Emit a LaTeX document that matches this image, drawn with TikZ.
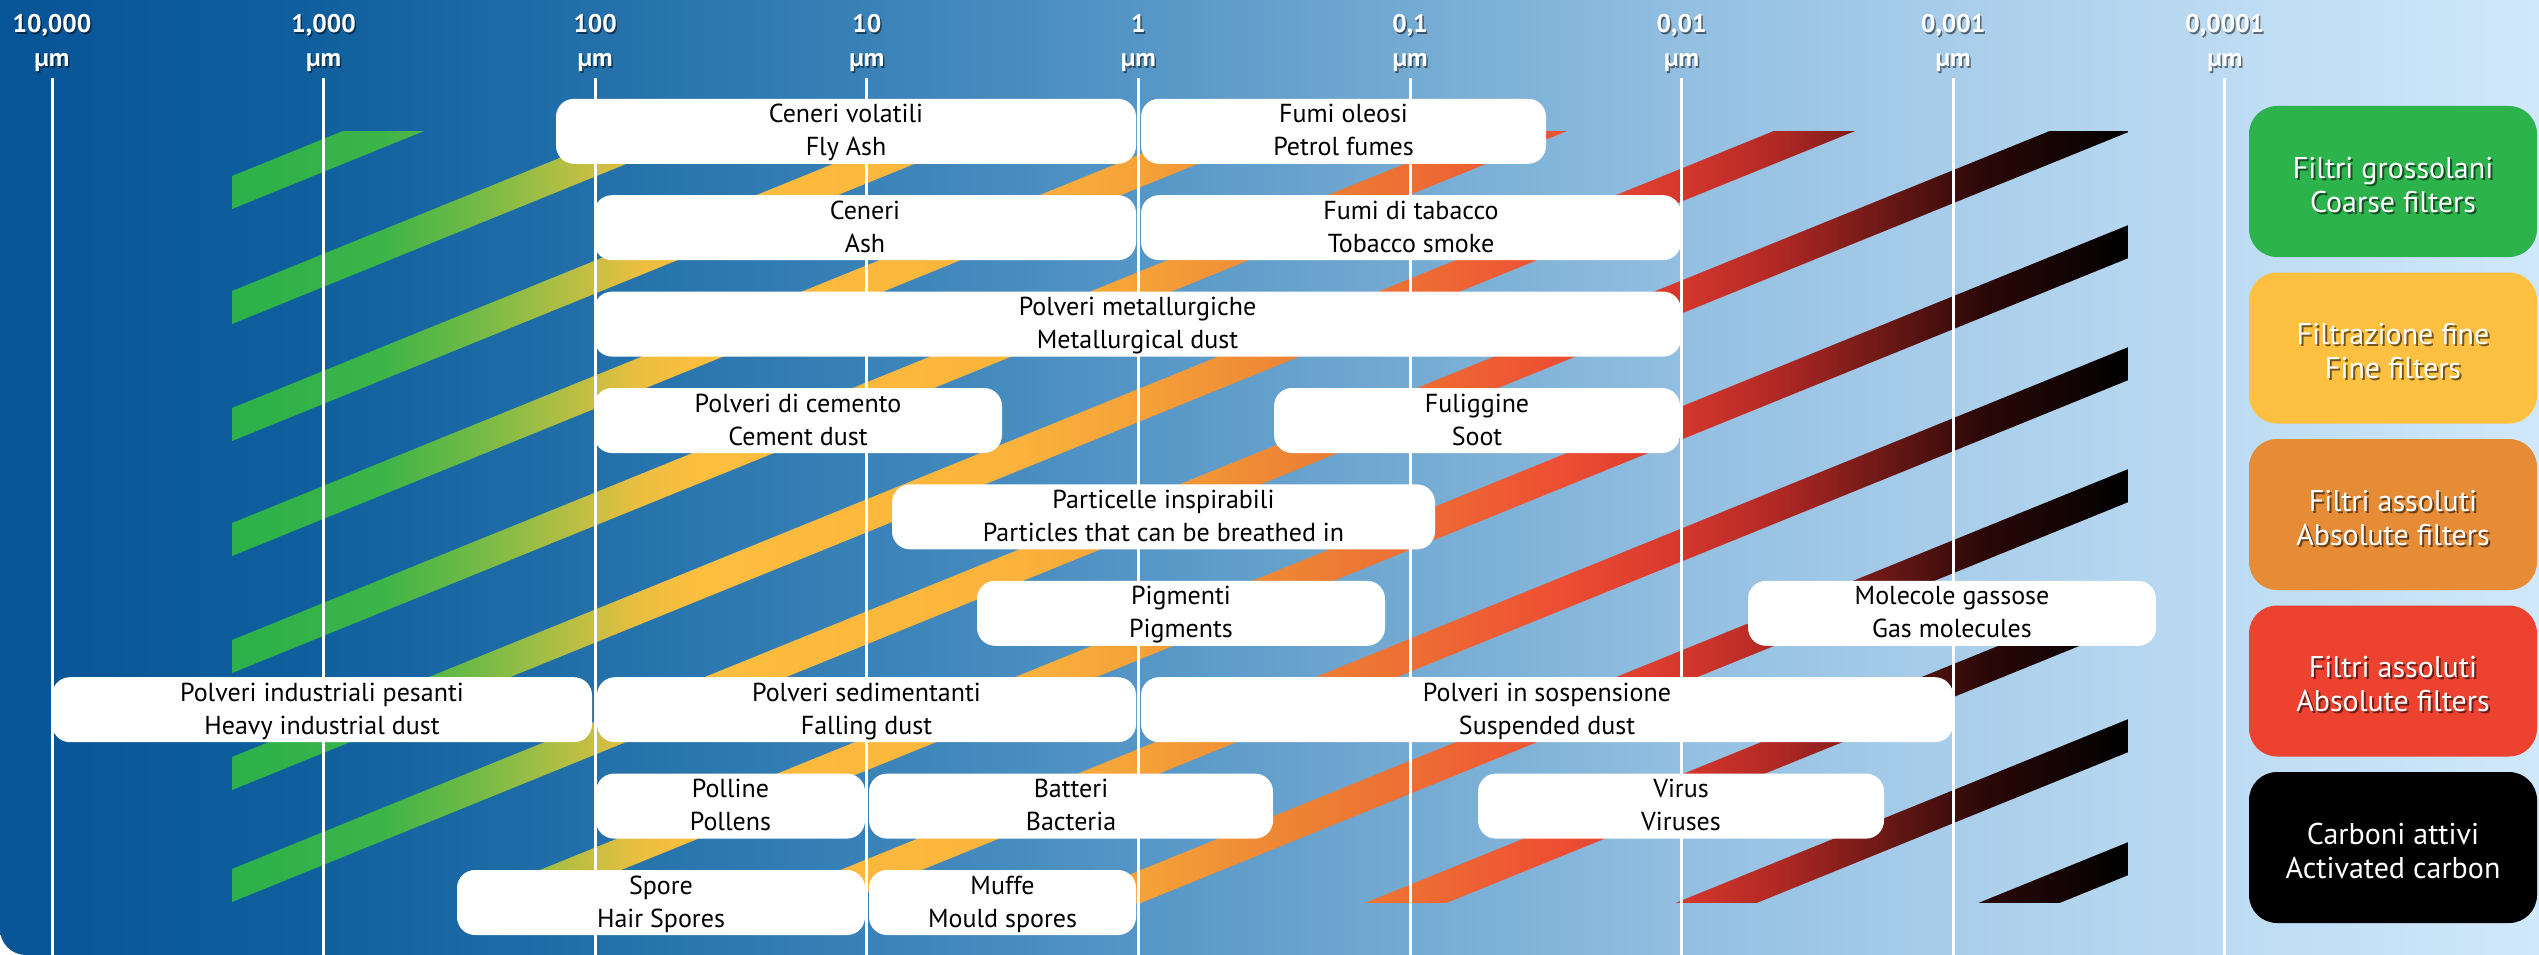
\documentclass[tikz,border=0pt]{standalone}
\usepackage{fontspec}
\setmainfont{PT Sans}

% background gradient (left to right)
\definecolor{bgc0}{RGB}{7,84,150}
\definecolor{bgc1}{RGB}{15,95,158}
\definecolor{bgc2}{RGB}{35,112,170}
\definecolor{bgc3}{RGB}{60,132,185}
\definecolor{bgc4}{RGB}{85,150,198}
\definecolor{bgc5}{RGB}{115,170,210}
\definecolor{bgc6}{RGB}{148,192,226}
\definecolor{bgc7}{RGB}{172,208,236}
\definecolor{bgc8}{RGB}{190,220,243}
\definecolor{bgc9}{RGB}{208,232,251}

% filter bands: green -> yellow -> orange -> red -> black
\definecolor{bandc0}{RGB}{44,177,74}
\definecolor{bandc1}{RGB}{60,180,72}
\definecolor{bandc2}{RGB}{110,186,70}
\definecolor{bandc3}{RGB}{175,190,68}
\definecolor{bandc4}{RGB}{235,190,64}
\definecolor{bandc5}{RGB}{253,190,62}
\definecolor{bandc6}{RGB}{252,180,60}
\definecolor{bandc7}{RGB}{245,162,56}
\definecolor{bandc8}{RGB}{236,130,52}
\definecolor{bandc9}{RGB}{238,108,52}
\definecolor{bandc10}{RGB}{238,78,50}
\definecolor{bandc11}{RGB}{214,55,44}
\definecolor{bandc12}{RGB}{175,40,36}
\definecolor{bandc13}{RGB}{110,25,22}
\definecolor{bandc14}{RGB}{45,8,8}
\definecolor{bandc15}{RGB}{0,0,0}

% legend colours
\definecolor{lgGreen}{RGB}{45,179,75}
\definecolor{lgYellow}{RGB}{253,192,64}
\definecolor{lgOrange}{RGB}{230,139,54}
\definecolor{lgRed}{RGB}{238,66,49}

\pgfdeclarehorizontalshading{bgshade}{100bp}{%
  color(0bp)=(bgc0); color(25bp)=(bgc0); color(30.908bp)=(bgc1);
  color(36.816bp)=(bgc2); color(42.724bp)=(bgc3); color(47.391bp)=(bgc4);
  color(52.570bp)=(bgc5); color(58.478bp)=(bgc6); color(64.386bp)=(bgc7);
  color(69.309bp)=(bgc8); color(75bp)=(bgc9); color(100bp)=(bgc9)}

% stops at x = 232,380,470,560,640,700,1000,1140,1300,1420,1560,1680,1780,1880,1980,2128
\pgfdeclarehorizontalshading{bandshade}{100bp}{%
  color(0bp)=(bandc0); color(25bp)=(bandc0); color(28.903bp)=(bandc1);
  color(31.276bp)=(bandc2); color(33.650bp)=(bandc3); color(35.760bp)=(bandc4);
  color(37.342bp)=(bandc5); color(45.253bp)=(bandc6); color(48.945bp)=(bandc7);
  color(53.164bp)=(bandc8); color(56.329bp)=(bandc9); color(60.021bp)=(bandc10);
  color(63.186bp)=(bandc11); color(65.823bp)=(bandc12); color(68.460bp)=(bandc13);
  color(71.097bp)=(bandc14); color(75bp)=(bandc15); color(100bp)=(bandc15)}

\tikzset{
  partbox/.style={fill=white, rounded corners=18pt, minimum height=65pt,
    inner sep=0pt, align=center, text=black,
    font=\fontsize{26}{33}\selectfont},
  lgbox/.style={rounded corners=28pt, minimum width=288pt,
    minimum height=151pt, inner sep=0pt},
  lgtext/.style={align=center, inner sep=0pt,
    font=\fontsize{30}{34}\selectfont},
  axtext/.style={font=\bfseries\fontsize{25.5}{30}\selectfont,
    inner sep=0pt, anchor=base},
  gridline/.style={white, line width=3pt},
}

% two-line label with fixed strut height/depth
\newcommand\twolines[2]{\rule{0pt}{23pt}#1\\#2\rule[-7pt]{0pt}{7pt}}
\newcommand\legendlines[2]{\rule{0pt}{33pt}#1\\#2\rule[-6pt]{0pt}{6pt}}

% particle box: name, left x, right x, row, line 1, line 2
\newcommand\partbox[6]{%
  \pgfmathsetmacro\bxc{(#2+#3)/2}%
  \pgfmathsetmacro\bxw{#3-#2}%
  \pgfmathsetmacro\byc{98.8+96.4*#4+32.5}%
  \node[partbox, minimum width=\bxw pt] (#1) at (\bxc,\byc) {\twolines{#5}{#6}};%
}

\begin{document}
\begin{tikzpicture}[x=1pt,y=-1pt]
\useasboundingbox (0,0) rectangle (2539,955);
\fill[white] (0,0) rectangle (2539,955);

% background
\shade[shading=bgshade] (0,0) -- (2539,0) -- (2539,955) -- (26,955)
  arc[start angle=90, end angle=180, radius=26] -- cycle;

% diagonal filter bands
\begin{scope}
  \clip (232,132) rectangle (2128,902);
  \clip \foreach \a in {176,291,408,523,640,757,869,995,1117,1239,1363,1489,1612}
    {(232,\a) -- (2128,\a-769.8) -- (2128,\a-736.8) -- (232,\a+33) -- cycle};
  \shade[shading=bandshade] (232,132) rectangle (2128,902);
\end{scope}

% size scale: grid lines and labels
\foreach \xx/\lab [count=\i] in {52/{10,000},323.6/{1,000},595.2/100,866.8/10,
    1138.4/1,1410/{0,1},1681.6/{0,01},1953.2/{0,001},2224.8/{0,0001}} {
  \draw[gridline] (\xx,78) -- (\xx,955);
  \node[axtext, text=black, opacity=.5] (ax\i s) at (\xx+1.5,35) {\lab};
  \node[axtext, text=white] (ax\i) at (\xx,33) {\lab};
  \node[axtext, text=black, opacity=.5] (um\i s) at (\xx+1.5,69) {µm};
  \node[axtext, text=white] (um\i) at (\xx,67) {µm};
}

% particle classes
\partbox{p01}{556}{1136}{0}{Ceneri volatili}{Fly Ash}
\partbox{p02}{1141}{1546}{0}{Fumi oleosi}{Petrol fumes}
\partbox{p11}{594}{1136}{1}{Ceneri}{Ash}
\partbox{p12}{1141}{1681}{1}{Fumi di tabacco}{Tobacco smoke}
\partbox{p21}{594}{1681}{2}{Polveri metallurgiche}{Metallurgical dust}
\partbox{p31}{594}{1002}{3}{Polveri di cemento}{Cement dust}
\partbox{p32}{1274}{1680}{3}{Fuliggine}{Soot}
\partbox{p41}{892}{1435}{4}{Particelle inspirabili}{Particles that can be breathed in}
\partbox{p51}{977}{1385}{5}{Pigmenti}{Pigments}
\partbox{p52}{1748}{2156}{5}{Molecole gassose}{Gas molecules}
\partbox{p61}{52}{592}{6}{Polveri industriali pesanti}{Heavy industrial dust}
\partbox{p62}{597}{1136}{6}{Polveri sedimentanti}{Falling dust}
\partbox{p63}{1141}{1953}{6}{Polveri in sospensione}{Suspended dust}
\partbox{p71}{596}{865}{7}{Polline}{Pollens}
\partbox{p72}{869}{1273}{7}{Batteri}{Bacteria}
\partbox{p73}{1478}{1884}{7}{Virus}{Viruses}
\partbox{p81}{457}{865}{8}{Spore}{Hair Spores}
\partbox{p82}{869}{1136}{8}{Muffe}{Mould spores}

% legend
\foreach \c/\la/\lb [count=\i] in {lgGreen/Filtri grossolani/Coarse filters,
    lgYellow/Filtrazione fine/Fine filters,
    lgOrange/Filtri assoluti/Absolute filters,
    lgRed/Filtri assoluti/Absolute filters,
    black/Carboni attivi/Activated carbon} {
  \pgfmathsetmacro\ly{106+166.5*(\i-1)+75.5}
  \node[lgbox, fill=\c] (lg\i) at (2393,\ly) {};
  \node[lgtext, text=black, opacity=.55] (lg\i s) at (2395,\ly+2) {\legendlines{\la}{\lb}};
  \node[lgtext, text=white] (lg\i t) at (lg\i) {\legendlines{\la}{\lb}};
}
\end{tikzpicture}
\end{document}
